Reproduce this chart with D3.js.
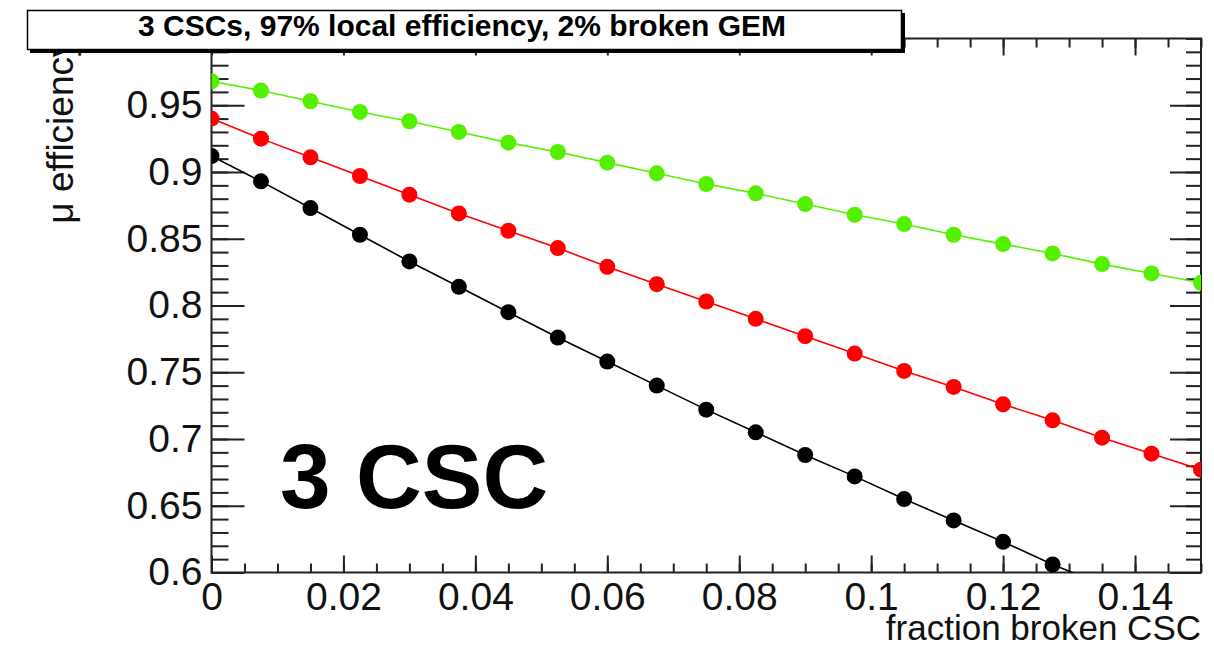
<!DOCTYPE html>
<html>
<head>
<meta charset="utf-8">
<script src="https://cdn.jsdelivr.net/npm/d3@7"></script>
<style>
  body { margin: 0; background: #fff; }
  text { font-family: "Liberation Sans", Arial, sans-serif; }
</style>
</head>
<body>
<div id="plot"></div>
<script>

////////////////////////////////////////////////////////////////////////
// Data

let fractionBroken = [0, 0.0075, 0.015, 0.0225, 0.03, 0.0375, 0.045, 0.0525, 0.06, 0.0675,
  0.075, 0.0825, 0.09, 0.0975, 0.105, 0.1125, 0.12, 0.1275, 0.135, 0.1425, 0.15];

let effGreen = [0.968, 0.961, 0.953, 0.945, 0.938, 0.930, 0.922, 0.915, 0.907, 0.899,
  0.891, 0.884, 0.876, 0.868, 0.861, 0.853, 0.846, 0.839, 0.831, 0.824, 0.817];

let effRed = [0.940, 0.925, 0.911, 0.897, 0.883, 0.869, 0.856, 0.843, 0.829, 0.816,
  0.803, 0.790, 0.777, 0.764, 0.751, 0.739, 0.726, 0.714, 0.701, 0.689, 0.677];

// black one drops out of the frame after 0.1275
let effBlack = [0.912, 0.893, 0.873, 0.853, 0.833, 0.814, 0.795, 0.776, 0.758, 0.740,
  0.722, 0.705, 0.688, 0.672, 0.655, 0.639, 0.623, 0.606, 0.591];

let xMajor = [0, 0.02, 0.04, 0.06, 0.08, 0.1, 0.12, 0.14];
let yMajor = [0.6, 0.65, 0.7, 0.75, 0.8, 0.85, 0.9, 0.95];

let titleText = "3 CSCs, 97% local efficiency, 2% broken GEM";
let xTitle = "fraction broken CSC";
let yTitle = "\u03bc efficiency";
let labelText = "3 CSC";

let series = [
  { name: "black", color: "#000000", values: effBlack },
  { name: "red",   color: "#ff0000", values: effRed },
  { name: "green", color: "#55f000", values: effGreen }
];


////////////////////////////////////////////////////////////////////////
// svg and scales

let width = 1214;
let height = 646;

let svg = d3.select("#plot")
  .append("svg")
  .attr("width", width).attr("height", height);

svg.append("rect").attr("width", width).attr("height", height).attr("fill", "#fff");

let xScale = d3.scaleLinear().domain([0, 0.15]).range([211.5, 1201]);
let yScale = d3.scaleLinear().domain([0.6, 1.0]).range([572.5, 38.5]);

let frameL = xScale(0), frameR = xScale(0.15), frameT = yScale(1.0), frameB = yScale(0.6);

// minor tick positions
let xMinor = d3.range(0, 0.1501, 0.005);
let yMinor = d3.range(0.6, 1.0001, 0.01);

let fmt = function(d) { return String(+d.toFixed(2)); };

svg.append("clipPath").attr("id", "frameClip")
  .append("rect")
  .attr("x", frameL).attr("y", frameT)
  .attr("width", frameR - frameL).attr("height", frameB - frameT);


////////////////////////////////////////////////////////////////////////
// axes (ROOT style: ticks point into the frame, on all four sides)

function styleAxis(g) {
  g.select(".domain").remove();
  g.selectAll(".tick line").attr("stroke", "#222").attr("stroke-width", 2);
  g.selectAll(".tick text").attr("fill", "#111").style("font-size", "39px");
}

// bottom
svg.append("g").attr("transform", "translate(0," + frameB + ")")
  .call(d3.axisBottom(xScale).tickValues(xMinor).tickSize(-9).tickFormat(""))
  .call(styleAxis);
svg.append("g").attr("transform", "translate(0," + frameB + ")")
  .call(d3.axisBottom(xScale).tickValues(xMajor).tickSize(-17).tickPadding(10).tickFormat(fmt))
  .call(styleAxis);

// top
svg.append("g").attr("transform", "translate(0," + frameT + ")")
  .call(d3.axisTop(xScale).tickValues(xMinor).tickSize(-9).tickFormat(""))
  .call(styleAxis);
svg.append("g").attr("transform", "translate(0," + frameT + ")")
  .call(d3.axisTop(xScale).tickValues(xMajor).tickSize(-17).tickFormat(""))
  .call(styleAxis);

// left
svg.append("g").attr("transform", "translate(" + frameL + ",0)")
  .call(d3.axisLeft(yScale).tickValues(yMinor).tickSize(-17).tickFormat(""))
  .call(styleAxis);
svg.append("g").attr("transform", "translate(" + frameL + ",0)")
  .call(d3.axisLeft(yScale).tickValues(yMajor).tickSize(-33).tickPadding(9).tickFormat(fmt))
  .call(styleAxis);

// right
svg.append("g").attr("transform", "translate(" + frameR + ",0)")
  .call(d3.axisRight(yScale).tickValues(yMinor).tickSize(-15).tickFormat(""))
  .call(styleAxis);
svg.append("g").attr("transform", "translate(" + frameR + ",0)")
  .call(d3.axisRight(yScale).tickValues(yMajor).tickSize(-31).tickFormat(""))
  .call(styleAxis);

// frame
svg.append("rect")
  .attr("x", frameL).attr("y", frameT)
  .attr("width", frameR - frameL).attr("height", frameB - frameT)
  .attr("fill", "none").attr("stroke", "#222").attr("stroke-width", 2);


////////////////////////////////////////////////////////////////////////
// graphs

let plot = svg.append("g").attr("clip-path", "url(#frameClip)");

let line = d3.line()
  .x(function(d, i) { return xScale(fractionBroken[i]); })
  .y(function(d) { return yScale(d); });

series.forEach(function(s) {
  plot.append("path")
    .attr("d", line(s.values))
    .attr("fill", "none")
    .attr("stroke", s.color)
    .attr("stroke-width", 1.6);

  plot.selectAll(".pt-" + s.name)
    .data(s.values)
    .enter()
    .append("circle")
    .attr("class", "pt-" + s.name)
    .attr("cx", function(d, i) { return xScale(fractionBroken[i]); })
    .attr("cy", function(d) { return yScale(d); })
    .attr("r", 8)
    .attr("fill", s.color);
});


////////////////////////////////////////////////////////////////////////
// texts

svg.append("text")
  .attr("x", xScale(0.0104)).attr("y", yScale(0.6483))
  .style("font-size", "91px").style("font-weight", "bold")
  .attr("fill", "#000")
  .text(labelText);

svg.append("text")
  .attr("x", frameR).attr("y", 640)
  .attr("text-anchor", "end")
  .style("font-size", "35px")
  .attr("fill", "#111")
  .text(xTitle);

// y title goes under the title box, like in the picture
svg.append("text")
  .attr("transform", "translate(73," + frameT + ") rotate(-90)")
  .attr("text-anchor", "end")
  .style("font-size", "37px")
  .attr("fill", "#111")
  .text(yTitle);

// title box with its shadow
svg.append("rect")
  .attr("x", 30).attr("y", 13).attr("width", 875).attr("height", 40)
  .attr("fill", "#000");
svg.append("rect")
  .attr("x", 27.5).attr("y", 10.5).attr("width", 874).attr("height", 39)
  .attr("fill", "#fff").attr("stroke", "#000").attr("stroke-width", 1.5);
svg.append("text")
  .attr("x", 462).attr("y", 36)
  .attr("text-anchor", "middle")
  .style("font-size", "30px").style("font-weight", "bold")
  .attr("fill", "#000")
  .text(titleText);

</script>
</body>
</html>
